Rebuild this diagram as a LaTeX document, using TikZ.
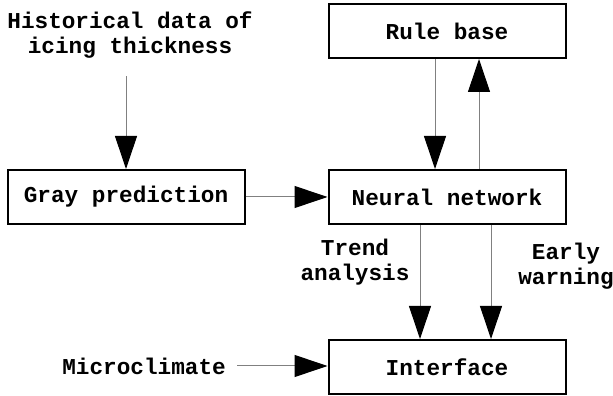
\documentclass[tikz,border=0pt]{standalone}
\usepackage{fontspec}
\setmonofont{Liberation Mono}
\usepackage{tikz}
\usetikzlibrary{positioning, arrows.meta}

\begin{document}
\begin{tikzpicture}[x=1pt,y=1pt,on grid,
       font=\ttfamily\bfseries\fontsize{22.7}{25}\selectfont,
       box/.style={draw,line width=2pt,minimum width=237pt,minimum height=54pt,inner sep=0pt},
       lbl/.style={align=center,inner sep=0pt},
       arr/.style={draw=gray,line width=1pt,-{Triangle[length=33pt,width=22pt,black]}}]
       \useasboundingbox (0,0) rectangle (613,396);
       \node[box] (NN) at (447,199) {Neural network};
       \node[box] (GP) [left=321pt of NN] {Gray prediction};
       \node[box] (RB) [above=166pt of NN] {Rule base};
       \node[box] (IF) [below=170pt of NN] {Interface};
       \node[lbl] (HD) at (130,361) {Historical data of\\icing thickness};
       \node[lbl,anchor=east] (MC) at (226,30) {Microclimate};
       \node[lbl] (TA) at (355,134) {Trend\\analysis};
       \node[lbl] (EW) at (566,130) {Early\\warning};

       \path
       ([yshift=-18pt]HD.south -| GP.north) edge[arr] (GP.north)
       (GP) edge[arr] (NN)
       ([xshift=-12pt]RB.south) edge[arr] ([xshift=-12pt]RB.south |- NN.north)
       ([xshift=32pt]NN.north) edge[arr] ([xshift=32pt]NN.north |- RB.south)
       ([xshift=-27pt]NN.south) edge[arr] ([xshift=-27pt]NN.south |- IF.north)
       ([xshift=44pt]NN.south) edge[arr] ([xshift=44pt]NN.south |- IF.north)
       ([xshift=11pt]MC.east) edge[arr] (IF.west |- MC.east);
    \end{tikzpicture}
\end{document}
